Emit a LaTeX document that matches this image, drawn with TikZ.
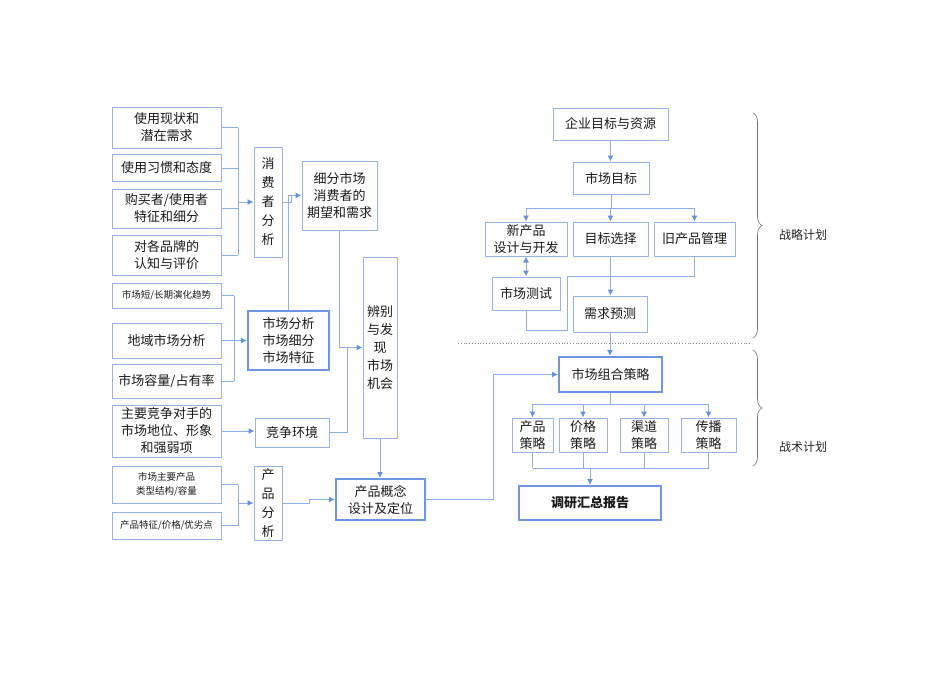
\documentclass[tikz,border=0pt]{standalone}
\usepackage{fontspec}
\setmainfont{Noto Sans CJK SC}
\usetikzlibrary{arrows.meta,decorations.pathreplacing}
\definecolor{boxblue}{RGB}{150,180,235}
\definecolor{deepblue}{RGB}{110,150,230}
\definecolor{lineblue}{RGB}{140,175,235}
\definecolor{tipblue}{RGB}{100,145,230}
\newcommand{\bigtxt}{\fontsize{13}{17}\selectfont}
\newcommand{\smalltxt}{\fontsize{9.5}{14}\selectfont}

\begin{document}
\begin{tikzpicture}[x=1pt, y=-1pt,
  box/.style={draw=boxblue, line width=1pt, inner sep=0pt, align=center, font=\bigtxt, text=black!90},
  keybox/.style={box, draw=deepblue, line width=2pt},
  ln/.style={draw=lineblue, line width=1pt},
  arr/.style={ln, -{Latex[length=6pt,width=6pt,color=tipblue]}},
  twoarr/.style={ln, {Latex[length=6pt,width=6pt,color=tipblue]}-{Latex[length=6pt,width=6pt,color=tipblue]}},
  brc/.style={draw=black!55, line width=0.6pt, decorate, decoration={brace, amplitude=9pt}}]
  \useasboundingbox (0,0) rectangle (950,672);

  % consumer analysis
  \node[box, minimum width=109, minimum height=41] (u1) at (166.5,127.5) {使用现状和\\潜在需求};
  \node[box, minimum width=109, minimum height=27] (u2) at (166.5,168) {使用习惯和态度};
  \node[box, minimum width=109, minimum height=39] (u3) at (166.5,208.5) {购买者/使用者\\特征和细分};
  \node[box, minimum width=109, minimum height=40] (u4) at (166.5,255) {对各品牌的\\认知与评价};
  \node[box, minimum width=28, minimum height=110, font=\fontsize{13}{19}\selectfont] (xfz) at (268,202) {消\\费\\者\\分\\析};
  \node[box, minimum width=75, minimum height=69] (xfsc) at (339.5,195.5) {细分市场\\消费者的\\期望和需求};

  % market analysis
  \node[box, minimum width=109, minimum height=25, font=\smalltxt] (m1) at (166.5,295.5) {市场短/长期演化趋势};
  \node[box, minimum width=109, minimum height=35] (m2) at (166.5,340.5) {地域市场分析};
  \node[box, minimum width=109, minimum height=34] (m3) at (166.5,381) {市场容量/占有率};
  \node[keybox, minimum width=81, minimum height=59] (scfx) at (288.5,340.5) {市场分析\\市场细分\\市场特征};

  % competition
  \node[box, minimum width=109, minimum height=52] (jz1) at (166.5,431) {主要竞争对手的\\市场地位、形象\\和强弱项};
  \node[box, minimum width=74, minimum height=29] (jzhj) at (292,432.5) {竞争环境};
  \node[box, minimum width=34, minimum height=181, font=\fontsize{13}{18}\selectfont] (bbfx) at (380,347.5) {辨别\\与发\\现\\市场\\机会};

  % product analysis
  \node[box, minimum width=109, minimum height=37, font=\smalltxt] (p1) at (166.5,484.5) {市场主要产品\\类型结构/容量};
  \node[box, minimum width=109, minimum height=27, font=\smalltxt] (p2) at (166.5,525.5) {产品特征/价格/优劣点};
  \node[box, minimum width=28, minimum height=74, font=\fontsize{13}{19}\selectfont] (cpfx) at (268,503) {产\\品\\分\\析};
  \node[keybox, minimum width=89, minimum height=41] (cpgn) at (380.5,499.5) {产品概念\\设计及定位};

  % strategic plan
  \node[box, minimum width=115, minimum height=32] (qymb) at (610.5,124) {企业目标与资源};
  \node[box, minimum width=76, minimum height=32] (scmb) at (611,178) {市场目标};
  \node[box, minimum width=82, minimum height=34] (xcp) at (526,239) {新产品\\设计与开发};
  \node[box, minimum width=75, minimum height=34] (mbxz) at (610.5,239) {目标选择};
  \node[box, minimum width=81, minimum height=34] (jcp) at (694.5,239) {旧产品管理};
  \node[box, minimum width=68, minimum height=33] (sccs) at (526,293.5) {市场测试};
  \node[box, minimum width=74, minimum height=36] (xqyc) at (610,314) {需求预测};

  % tactical plan
  \node[keybox, minimum width=103, minimum height=35] (zhcl) at (610.5,374.5) {市场组合策略};
  \node[box, minimum width=41, minimum height=34] (cl1) at (532.5,435) {产品\\策略};
  \node[box, minimum width=48, minimum height=34] (cl2) at (583,435) {价格\\策略};
  \node[box, minimum width=48, minimum height=34] (cl3) at (644,435) {渠道\\策略};
  \node[box, minimum width=55, minimum height=34] (cl4) at (708.5,435) {传播\\策略};
  \node[keybox, minimum width=142, minimum height=34, font=\bigtxt\bfseries] (dyhz) at (590,503) {调研汇总报告};

  \node[font=\fontsize{12}{14}\selectfont, text=black!85] (zllb) at (803,235) {战略计划};
  \node[font=\fontsize{12}{14}\selectfont, text=black!85] (zslb) at (803,447) {战术计划};

  % junctions
  \coordinate (bus1) at (238,202);
  \coordinate (bus2) at (234,340.5);
  \coordinate (bus3) at (238,503);
  \coordinate (j1) at (291,195.5);
  \coordinate (j2) at (347,347.5);
  \coordinate (b2) at (611,208);
  \coordinate (k1) at (567,276);
  \coordinate (k2) at (567,330);
  \coordinate (b3) at (610.5,404);
  \coordinate (b4) at (590,468);

  % left side connectors
  \foreach \n in {u1,u2,u3,u4} \draw[ln] (\n.east) -- (\n.east -| bus1);
  \draw[ln] (u1.east -| bus1) -- (u4.east -| bus1);
  \draw[arr] (bus1) -- (xfz.west);
  \draw[ln] (xfz.east) -| (j1);
  \draw[ln] (scfx.north) |- (j1);
  \draw[arr] (j1) -- (xfsc.west);
  \foreach \n in {m1,m2,m3} \draw[ln] (\n.east) -- (\n.east -| bus2);
  \draw[ln] (m1.east -| bus2) -- (m3.east -| bus2);
  \draw[arr] (bus2) -- (scfx.west);
  \draw[arr] (jz1.east) -- (jz1.east -| jzhj.west);
  \draw[arr] (xfsc.south) |- (bbfx.west);
  \draw[ln] (jzhj.east) -| (j2);
  \draw[arr] (bbfx.south) -- (bbfx.south |- cpgn.north);
  \foreach \n in {p1,p2} \draw[ln] (\n.east) -- (\n.east -| bus3);
  \draw[ln] (p1.east -| bus3) -- (p2.east -| bus3);
  \draw[arr] (bus3) -- (cpfx.west);
  \draw[arr] (cpfx.east) -- ++(27,0) |- (cpgn.west);
  \draw[arr] (cpgn.east) -- ++(67,0) |- (zhcl.west);

  % right side connectors
  \draw[arr] (qymb.south) -- (qymb.south |- scmb.north);
  \draw[ln] (scmb.south) -- (b2);
  \draw[ln] (xcp.north |- b2) -- (jcp.north |- b2);
  \foreach \n in {xcp,mbxz,jcp} \draw[arr] (\n.north |- b2) -- (\n.north);
  \draw[twoarr] (xcp.south) -- (sccs.north);
  \draw[arr] (mbxz.south) -- (mbxz.south |- xqyc.north);
  \draw[ln] (jcp.south) |- (k1) -- (k2) -| (sccs.south);
  \draw[arr] (xqyc.south) -- (xqyc.south |- zhcl.north);
  \draw[ln] (zhcl.south) -- (b3);
  \draw[ln] (cl1.north |- b3) -- (cl4.north |- b3);
  \foreach \n in {cl1,cl2,cl3,cl4} \draw[arr] (\n.north |- b3) -- (\n.north);
  \foreach \n in {cl1,cl2,cl3,cl4} \draw[ln] (\n.south) -- (\n.south |- b4);
  \draw[ln] (cl1.south |- b4) -- (cl4.south |- b4);
  \draw[arr] (b4) -- (dyhz.north);

  % plan split and braces
  \draw[black!45, dotted, line width=0.8pt] (458,343) -- (750,343);
  \draw[brc] (753,113) -- (753,338);
  \draw[brc] (753,350) -- (753,466);
\end{tikzpicture}
\end{document}
